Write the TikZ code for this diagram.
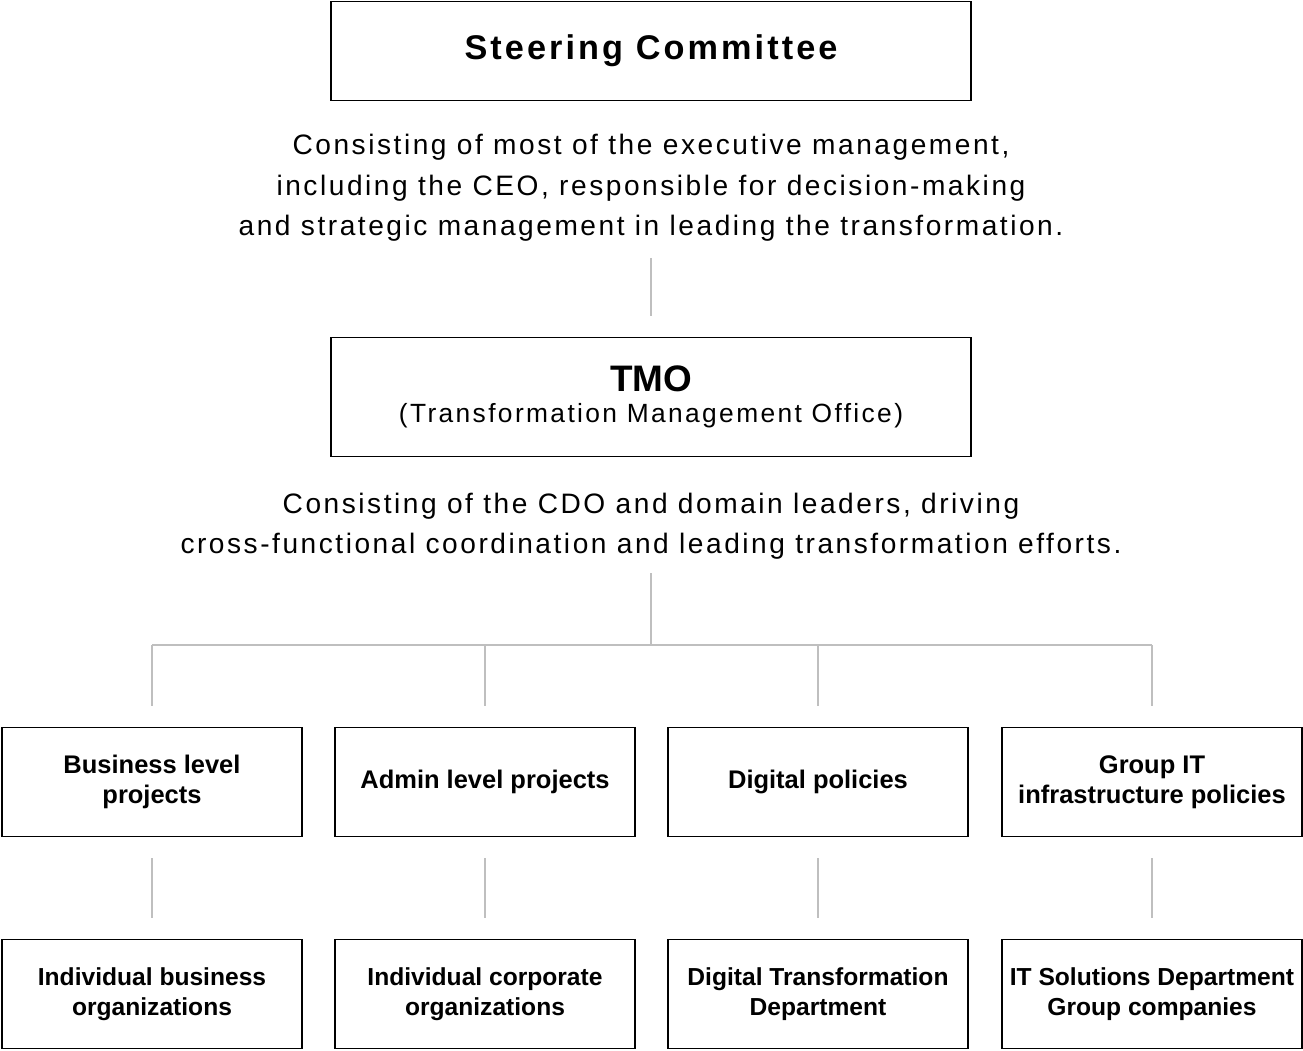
\documentclass[tikz,border=0pt]{standalone}
\usepackage{fontspec}
\setmainfont{Liberation Sans}
\newfontfamily\widefont[LetterSpace=9]{Liberation Sans}
\usetikzlibrary{positioning}

\begin{document}
\begin{tikzpicture}[x=0.02cm,y=-0.02cm,
  box/.style={draw,thick,fill=white,align=center,font=\bfseries\fontsize{14.5}{17}\selectfont},
  desc/.style={align=center,font=\widefont\fontsize{16}{23}\selectfont},
  link/.style={draw=black!25,line width=1.2pt}]
\useasboundingbox (0,0) rectangle (1303,1051);

\node[box,minimum width=12.8cm,minimum height=1.98cm,font=\widefont\bfseries\fontsize{19.5}{22}\selectfont] (steer) at (651,51) {Steering Committee};
\node[desc] (steerdesc) at (651,188) {Consisting of most of the executive management,\\including the CEO, responsible for decision-making\\and strategic management in leading the transformation.};
\node[box,minimum width=12.8cm,minimum height=2.38cm] (tmo) at (651,397)
  {{\fontsize{21}{24}\selectfont TMO}\\[1pt]{\widefont\mdseries\fontsize{15}{17}\selectfont(Transformation Management Office)}};
\node[desc] (tmodesc) at (651,526) {Consisting of the CDO and domain leaders, driving\\cross-functional coordination and leading transformation efforts.};

% upper links
\coordinate (a1) at (651,258); \coordinate (a2) at (651,316);
\draw[link] (a1) -- (a2);
\coordinate (b1) at (651,573); \coordinate (hub) at (651,645);
\draw[link] (b1) -- (hub);

% groups
\foreach \n/\x/\top/\bot in {
  1/152/{Business level\\projects}/{Individual business\\organizations},
  2/485/{Admin level projects}/{Individual corporate\\organizations},
  3/818/{Digital policies}/{Digital Transformation\\Department},
  4/1152/{Group IT\\infrastructure policies}/{IT Solutions Department\\Group companies}}{
  \node[box,minimum width=6cm,minimum height=2.18cm] (proj\n) at (\x,782) {\top};
  \node[box,minimum width=6cm,minimum height=2.18cm,font=\bfseries\fontsize{14}{17}\selectfont] (org\n) at (\x,994) {\bot};
  \coordinate (h\n) at (\x,645); \coordinate (v\n) at (\x,706);
  \coordinate (p\n) at (\x,858); \coordinate (q\n) at (\x,918);
  \draw[link] (h\n) -- (v\n);
  \draw[link] (p\n) -- (q\n);
}
\draw[link] (h1) -- (h4);
\end{tikzpicture}
\end{document}
